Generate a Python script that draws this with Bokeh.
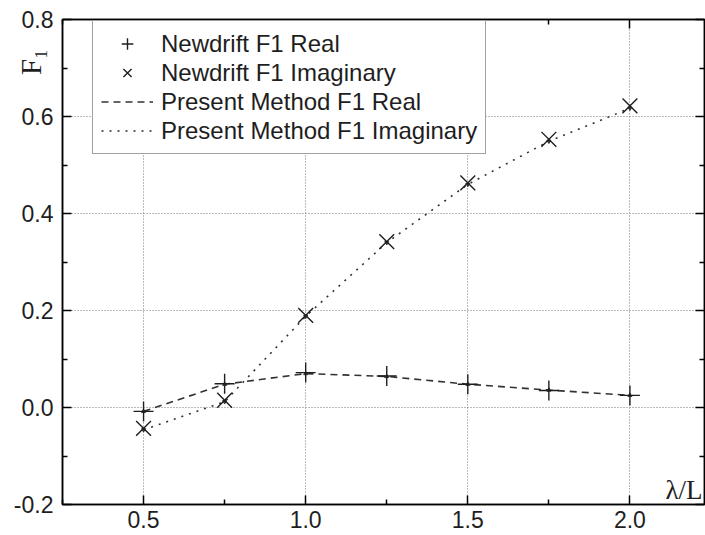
import math
from bokeh.plotting import figure
from bokeh.models import (Range1d, FixedTicker, LinearAxis, Legend, LegendItem,
                          Label, PrintfTickFormatter)
from bokeh.embed import file_html
from bokeh.resources import INLINE

# ---- data ----
lam = [0.5, 0.75, 1.0, 1.25, 1.5, 1.75, 2.0]
newdrift_real = [-0.008, 0.049, 0.072, 0.065, 0.048, 0.035, 0.025]
newdrift_imag = [-0.043, 0.015, 0.19, 0.342, 0.463, 0.553, 0.622]
present_real = [-0.008, 0.048, 0.070, 0.064, 0.048, 0.036, 0.025]
present_imag = [-0.046, 0.012, 0.188, 0.340, 0.460, 0.549, 0.617]

x_ticks = [0.5, 1.0, 1.5, 2.0]
x_minor = [0.25, 0.75, 1.25, 1.75]
y_ticks = [-0.2, 0.0, 0.2, 0.4, 0.6, 0.8]
y_minor = [-0.1, 0.1, 0.3, 0.5, 0.7]

legend_labels = ["Newdrift F1 Real", "Newdrift F1 Imaginary",
                 "Present Method F1 Real", "Present Method F1 Imaginary"]
x_label = "\u03bb/L"
y_label = "F\u2081"

SANS = "Liberation Sans"
SERIF = "Liberation Serif, DejaVu Serif, DejaVu Sans"
INK = "#1e1e1e"
LINE = "#333333"

p = figure(width=705, height=535, output_backend="svg", toolbar_location=None,
           x_range=Range1d(0.25, 2.23), y_range=Range1d(-0.2, 0.8),
           min_border_left=62, min_border_right=1, min_border_top=19,
           min_border_bottom=31)
p.background_fill_color = "white"
p.border_fill_color = "white"
p.outline_line_color = "black"
p.outline_line_width = 1.5

xt = FixedTicker(ticks=x_ticks, minor_ticks=x_minor)
yt = FixedTicker(ticks=y_ticks, minor_ticks=y_minor)

def style_axis(ax, ticker, labels=True):
    ax.ticker = ticker
    ax.axis_line_color = "black"
    ax.axis_line_width = 1.5
    ax.major_tick_in = 9
    ax.major_tick_out = 0
    ax.minor_tick_in = 5
    ax.minor_tick_out = 0
    ax.major_tick_line_width = 1.5
    ax.minor_tick_line_width = 1.5
    ax.major_tick_line_color = "black"
    ax.minor_tick_line_color = "black"
    if labels:
        ax.formatter = PrintfTickFormatter(format="%.1f")
        ax.major_label_text_font = SANS
        ax.major_label_text_font_size = "23px"
        ax.major_label_text_color = INK
    else:
        ax.major_label_text_font_size = "1px"
        ax.major_label_text_color = None
        ax.major_label_standoff = 0

style_axis(p.xaxis[0], xt)
p.xaxis[0].major_label_standoff = 6
yax = p.yaxis[0]
style_axis(yax, yt)
yax.major_label_standoff = 9

# y axis title "F1" near the top of the axis, tucked into the tick-label column;
# blank braille cells pad the end so the title sits a little below the top
yax.axis_label = y_label + "\u2800" * 4
yax.axis_label_text_font = SERIF
yax.axis_label_text_font_size = "29px"
yax.axis_label_text_font_style = "normal"
yax.axis_label_text_color = INK
yax.axis_label_standoff = -36
if "axis_label_align" in yax.properties():
    yax.axis_label_align = "end"

top_ax = LinearAxis()
style_axis(top_ax, xt, labels=False)
p.add_layout(top_ax, "above")
right_ax = LinearAxis()
style_axis(right_ax, yt, labels=False)
p.add_layout(right_ax, "right")

for g, tk in ((p.xgrid[0], xt), (p.ygrid[0], yt)):
    g.ticker = tk
    g.grid_line_color = "#777777"
    g.grid_line_dash = "1 2"
    g.grid_line_width = 1

# present method lines
l_real = p.line(lam, present_real, line_color=LINE, line_width=1.6, line_dash="7 5")
p.scatter(lam, present_real, marker="triangle", size=4, color=LINE)
l_imag = p.line(lam, present_imag, line_color=LINE, line_width=1.6, line_dash="2 6")
p.scatter(lam, present_imag, marker="inverted_triangle", size=4, color=LINE)

# newdrift markers
s_real = p.scatter(lam, newdrift_real, marker="cross", size=20, line_color=INK, line_width=1.4)
s_imag = p.scatter(lam, newdrift_imag, marker="x", size=21, line_color=INK, line_width=1.4)

legend = Legend(items=[
    LegendItem(label=legend_labels[0], renderers=[s_real]),
    LegendItem(label=legend_labels[1], renderers=[s_imag]),
    LegendItem(label=legend_labels[2], renderers=[l_real]),
    LegendItem(label=legend_labels[3], renderers=[l_imag]),
], location=(30, 350))
legend.label_text_font = SANS
legend.label_text_font_size = "24px"
legend.label_text_color = INK
legend.glyph_width = 52
legend.glyph_height = 29
legend.label_height = 29
legend.spacing = 0
legend.padding = 8
legend.label_standoff = 8
legend.border_line_color = "#444444"
legend.border_line_width = 1
legend.background_fill_color = "white"
legend.background_fill_alpha = 1.0
p.add_layout(legend)

p.add_layout(Label(x=2.224, y=-0.171, text=x_label,
                   text_font=SERIF, text_font_size="27px", text_color=INK,
                   text_align="right", text_baseline="alphabetic"))

open("out.html", "w").write(file_html(p, INLINE))
